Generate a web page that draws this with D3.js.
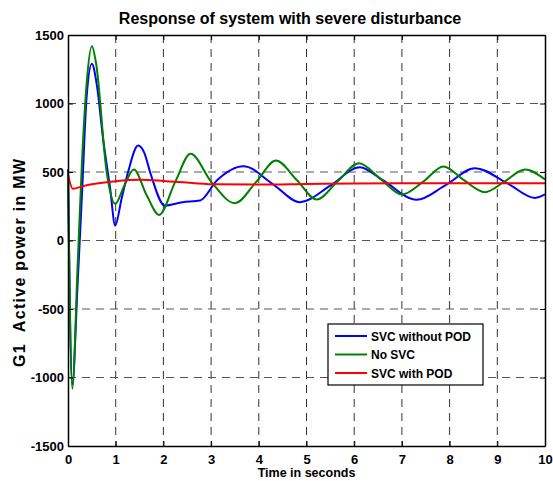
<!DOCTYPE html>
<html>
<head>
<meta charset="utf-8">
<script src="https://cdn.jsdelivr.net/npm/d3@7"></script>
<style>
  body { margin: 0; background: #fff; }
  svg { font-family: "Liberation Sans", Arial, sans-serif; }
</style>
</head>
<body>
<div id="chart"></div>
<script>
// data
var blueT = [0, 0.09, 0.2, 0.3, 0.39, 0.5, 0.6, 0.74, 0.88, 0.99, 1.12, 1.26, 1.47, 1.6, 1.73, 2.03, 2.4, 2.77, 3.12, 3.68, 4.3, 4.86, 5.5, 6.12, 6.6, 7.31, 7.9, 8.53, 9.2, 9.79, 10];
var blueV = [520, -1050, -330, 390, 1046, 1290, 1145, 730, 390, 109, 300, 500, 693, 640, 489, 255, 280, 292, 438, 542, 410, 280, 400, 535, 440, 297, 400, 528, 420, 311, 336];

var greenT = [0, 0.09, 0.2, 0.29, 0.39, 0.5, 0.59, 0.81, 0.99, 1.18, 1.38, 1.65, 1.91, 2.25, 2.57, 3.0, 3.5, 3.95, 4.36, 4.8, 5.21, 5.65, 6.1, 6.55, 7.0, 7.45, 7.87, 8.3, 8.74, 9.15, 9.58, 10];
var greenV = [500, -1082, -200, 550, 1143, 1418, 1290, 500, 268, 400, 518, 330, 187, 430, 633, 430, 272, 430, 584, 440, 299, 430, 564, 450, 336, 430, 540, 440, 353, 430, 518, 445];

var redT = [0, 0.1, 0.3, 0.5, 1.0, 1.5, 2.0, 2.6, 3.1, 4.0, 5.0, 6.0, 7.0, 8.0, 9.0, 10];
var redV = [480, 378, 395, 410, 433, 443, 435, 420, 410, 408, 412, 416, 418, 418, 418, 418];

var xTicks = [0, 1, 2, 3, 4, 5, 6, 7, 8, 9, 10];
var yTicks = [-1500, -1000, -500, 0, 500, 1000, 1500];

var seriesNames = ["SVC without POD", "No SVC", "SVC with POD"];
var seriesColors = ["#0000ff", "#008000", "#ff0000"];

var width = 553, height = 481;
var margin = {left: 68, right: 8, top: 35, bottom: 35};
var plotW = width - margin.left - margin.right;
var plotH = height - margin.top - margin.bottom;

var svg = d3.select("#chart").append("svg")
  .attr("width", width).attr("height", height);

var x = d3.scaleLinear().domain([0, 10]).range([margin.left, margin.left + plotW]);
var y = d3.scaleLinear().domain([-1500, 1500]).range([margin.top + plotH, margin.top]);

// grid
svg.append("g").selectAll("line").data(xTicks.slice(1, -1)).enter().append("line")
  .attr("x1", function (d) { return x(d); }).attr("x2", function (d) { return x(d); })
  .attr("y1", y(1500)).attr("y2", y(-1500))
  .attr("stroke", "#333").attr("stroke-width", 1).attr("stroke-dasharray", "8,6");
svg.append("g").selectAll("line").data(yTicks.slice(1, -1)).enter().append("line")
  .attr("y1", function (d) { return y(d); }).attr("y2", function (d) { return y(d); })
  .attr("x1", x(0)).attr("x2", x(10))
  .attr("stroke", "#555").attr("stroke-width", 1).attr("stroke-dasharray", "8,6");

// curves
var series = [
  {t: blueT, v: blueV},
  {t: greenT, v: greenV},
  {t: redT, v: redV}
];
var line = d3.line()
  .x(function (d) { return x(d[0]); })
  .y(function (d) { return y(d[1]); })
  .curve(d3.curveMonotoneX);

series.forEach(function (s, i) {
  var pts = s.t.map(function (t, k) { return [t, s.v[k]]; });
  svg.append("path").datum(pts)
    .attr("d", line)
    .attr("fill", "none")
    .attr("stroke", seriesColors[i])
    .attr("stroke-width", 2);
});

// axes with inner ticks on all sides
var fmt = d3.format("d");
var axisBottom = d3.axisBottom(x).tickValues(xTicks).tickSizeInner(-5).tickSizeOuter(0).tickPadding(9).tickFormat(fmt);
var axisTop = d3.axisTop(x).tickValues(xTicks).tickSizeInner(-5).tickSizeOuter(0).tickFormat("");
var axisLeft = d3.axisLeft(y).tickValues(yTicks).tickSizeInner(-5).tickSizeOuter(0).tickPadding(9)
  .tickFormat(function (d) { return String(d); });
var axisRight = d3.axisRight(y).tickValues(yTicks).tickSizeInner(-5).tickSizeOuter(0).tickFormat("");

var gb = svg.append("g").attr("transform", "translate(0," + y(-1500) + ")").call(axisBottom);
var gt = svg.append("g").attr("transform", "translate(0," + y(1500) + ")").call(axisTop);
var gl = svg.append("g").attr("transform", "translate(" + x(0) + ",0)").call(axisLeft);
var gr = svg.append("g").attr("transform", "translate(" + x(10) + ",0)").call(axisRight);

[gb, gt, gl, gr].forEach(function (g) {
  g.select(".domain").attr("stroke", "#000").attr("stroke-width", 1.5);
  g.selectAll(".tick line").attr("stroke", "#000");
  g.selectAll("text").attr("fill", "#000").style("font-size", "13px").style("font-weight", "bold")
    .style("font-family", "'Liberation Sans', Arial, sans-serif");
});
gl.selectAll("text").attr("dx", "5");

// title and labels
svg.append("text").attr("x", 290).attr("y", 24)
  .attr("text-anchor", "middle").style("font-size", "16px").style("font-weight", "bold")
  .text("Response of system with severe disturbance");
svg.append("text").attr("x", x(5)).attr("y", 477)
  .attr("text-anchor", "middle").style("font-size", "12.5px").style("font-weight", "bold")
  .text("Time in seconds");
svg.append("text")
  .attr("transform", "translate(25,263) rotate(-90)")
  .attr("text-anchor", "middle").style("font-size", "16px").style("font-weight", "bold")
  .style("white-space", "pre")
  .attr("textLength", 208).attr("lengthAdjust", "spacing")
  .text("G1  Active power in MW");

// legend
var lg = svg.append("g").attr("transform", "translate(328,324)");
lg.append("rect").attr("width", 155).attr("height", 61)
  .attr("fill", "#fff").attr("stroke", "#000").attr("stroke-width", 1.2);
seriesNames.forEach(function (name, i) {
  var yy = 12 + i * 18.5;
  lg.append("line").attr("x1", 7).attr("x2", 39).attr("y1", yy).attr("y2", yy)
    .attr("stroke", seriesColors[i]).attr("stroke-width", 2);
  lg.append("text").attr("x", 43).attr("y", yy + 4.5)
    .style("font-size", "12px").style("font-weight", "bold").text(name);
});
</script>
</body>
</html>
